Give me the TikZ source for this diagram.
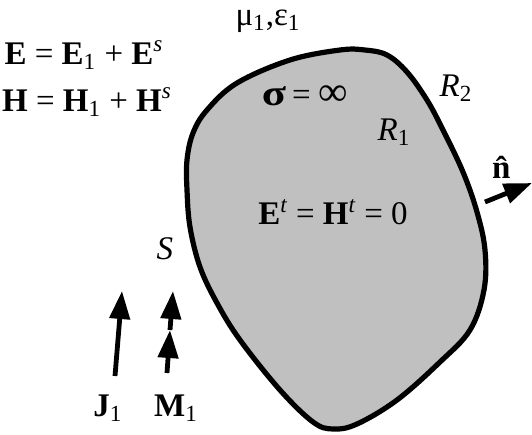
\documentclass[tikz,border=0pt]{standalone}
\usepackage{fontspec}
\setmainfont{Liberation Serif}
\usepackage{amsmath}
\usetikzlibrary{arrows.meta}
\definecolor{bodygray}{RGB}{192,192,192}
\tikzset{
  lbl/.style={font=\fontsize{16.5}{19}\selectfont, inner sep=0pt},
  curarrow/.style={line width=2.4pt, -{Triangle[length=14pt,width=10pt]}}
}

\begin{document}
\begin{tikzpicture}[x=0.5pt,y=-0.5pt]
\useasboundingbox (0,0) rectangle (532,435);
% conducting body
\draw[line width=2.6pt,fill=bodygray] plot[smooth cycle,tension=0.6] coordinates {
  (193,133) (207,110) (237,83) (290,60) (340,50) (365,50) (387,55) (407,72)
  (427,100) (443,130) (463,172) (477,212) (485,250) (484,290) (470,330)
  (440,362) (397,400) (357,424) (333,429) (313,422) (280,390) (240,340)
  (217,303) (200,267) (190,227) (187,190) (187,160)};
% labels
\node[lbl] (efield) at (84,55) {\textbf{E} = \textbf{E}$_{\text{1}}$ + \textbf{E}$^{\textit{s}}$};
\node[lbl] (hfield) at (87,102) {\textbf{H} = \textbf{H}$_{\text{1}}$ + \textbf{H}$^{\textit{s}}$};
\node[lbl] (medium) at (268,21) {μ$_{\text{1}}$,ε$_{\text{1}}$};
\node[lbl] (sigma) at (305,96) {\scalebox{1.35}[1.1]{\textbf{σ}}\hspace{3pt}=\hspace{4pt}\scalebox{1.25}{∞}};
\node[lbl] (rtwo) at (456,88) {\textit{R}$_{\text{2}}$};
\node[lbl] (rone) at (394,132) {\textit{R}$_{\text{1}}$};
\node[lbl] (inside) at (333,212) {\textbf{E}$^{\textit{t}}$ = \textbf{H}$^{\textit{t}}$ = 0};
\node[lbl] (surf) at (165,249) {\textit{S}};
\node[lbl] (normal) at (504,167) {\textbf{\^{n}}};
\node[lbl] (jlbl) at (108,408) {\textbf{J}$_{\text{1}}$};
\node[lbl] (mlbl) at (176,408) {\textbf{M}$_{\text{1}}$};
% sources and normal
\coordinate (j0) at (115,376);
\coordinate (j1) at (122,291);
\coordinate (m0) at (167,373);
\coordinate (mm) at (170,330);
\coordinate (m1) at (173,291);
\coordinate (n0) at (485,202);
\coordinate (n1) at (532,183);
\draw[curarrow] (j0) -- (j1);
\draw[curarrow] (m0) -- (mm);
\draw[curarrow] (mm) -- (m1);
\draw[curarrow] (n0) -- (n1);
\end{tikzpicture}
\end{document}
